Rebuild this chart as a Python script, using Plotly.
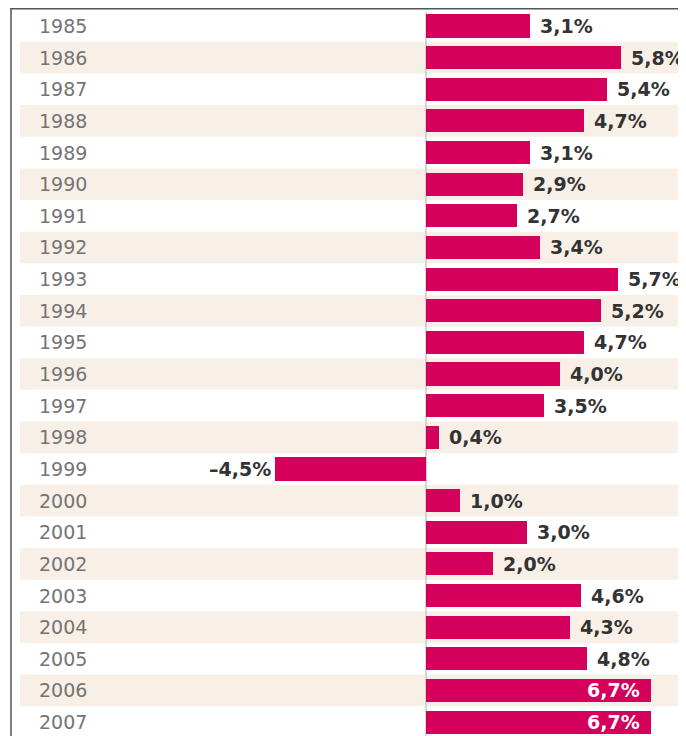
import plotly.graph_objects as go

years = [str(y) for y in range(1985, 2008)]
growth = [3.1, 5.8, 5.4, 4.7, 3.1, 2.9, 2.7, 3.4, 5.7, 5.2, 4.7, 4.0, 3.5, 0.4,
          -4.5, 1.0, 3.0, 2.0, 4.6, 4.3, 4.8, 6.7, 6.7]
labels = [f"{v:.1f}%".replace(".", ",") for v in growth]

# page body has an 8px margin, so the figure is drawn 8px smaller and shifted
OFF = 8
W, H = 686 - OFF, 736 - OFF
zero_px = 426 - OFF
px_per_unit = 33.6
row0 = 26 - OFF
pitch = 31.64

x_range = [(0 - zero_px) / px_per_unit, (W - zero_px) / px_per_unit]
y_range = [(H - row0) / pitch, (0 - row0) / pitch]

idx = list(range(len(years)))
bar_color = "#d4005b"

fig = go.Figure()
fig.add_trace(go.Bar(
    x=growth, y=idx, orientation="h", width=0.73,
    marker=dict(color=bar_color, line=dict(width=0)),
    hoverinfo="skip", showlegend=False,
))

shapes = []
for i in idx:
    if i % 2 == 1:
        shapes.append(dict(type="rect", xref="paper", yref="y",
                           x0=(20 - OFF) / W, x1=1, y0=i - 0.5, y1=i + 0.5,
                           fillcolor="#f8f0e6", line=dict(width=0), layer="below"))
shapes.append(dict(type="line", xref="x", yref="paper", x0=0, x1=0,
                   y0=0, y1=1 - 4 / H, line=dict(color="#b0b0b0", width=1), layer="below"))
shapes.append(dict(type="line", xref="paper", yref="paper", x0=(10.5 - OFF) / W, x1=1,
                   y0=1 - 0.75 / H, y1=1 - 0.75 / H, line=dict(color="#555555", width=1.5)))
shapes.append(dict(type="line", xref="paper", yref="paper", x0=(11 - OFF) / W, x1=(11 - OFF) / W,
                   y0=0, y1=1, line=dict(color="#555555", width=1.5)))

annotations = []
for i, (yr, v, lab) in enumerate(zip(years, growth, labels)):
    annotations.append(dict(xref="paper", yref="y", x=(37 - OFF) / W, y=i, text=yr,
                            xanchor="left", yanchor="middle", showarrow=False,
                            font=dict(family="DejaVu Sans", size=19, color="#747474")))
    if v >= 6.5:
        annotations.append(dict(xref="x", yref="y", x=v, y=i, text=lab, xanchor="right",
                                yanchor="middle", xshift=-9, showarrow=False,
                                font=dict(family="DejaVu Sans", size=19, color="white", weight="bold")))
    elif v >= 0:
        annotations.append(dict(xref="x", yref="y", x=v, y=i, text=lab, xanchor="left",
                                yanchor="middle", xshift=8, showarrow=False,
                                font=dict(family="DejaVu Sans", size=19, color="#333333", weight="bold")))
    else:
        annotations.append(dict(xref="x", yref="y", x=v, y=i, text="–" + lab[1:], xanchor="right",
                                yanchor="middle", xshift=-2, showarrow=False,
                                font=dict(family="DejaVu Sans", size=19, color="#333333", weight="bold")))

fig.update_layout(
    width=W, height=H, margin=dict(l=0, r=0, t=0, b=0),
    paper_bgcolor="white", plot_bgcolor="white",
    xaxis=dict(range=x_range, visible=False, fixedrange=True),
    yaxis=dict(range=y_range, visible=False, fixedrange=True),
    shapes=shapes, annotations=annotations, bargap=0,
)

fig.write_html("out.html")
